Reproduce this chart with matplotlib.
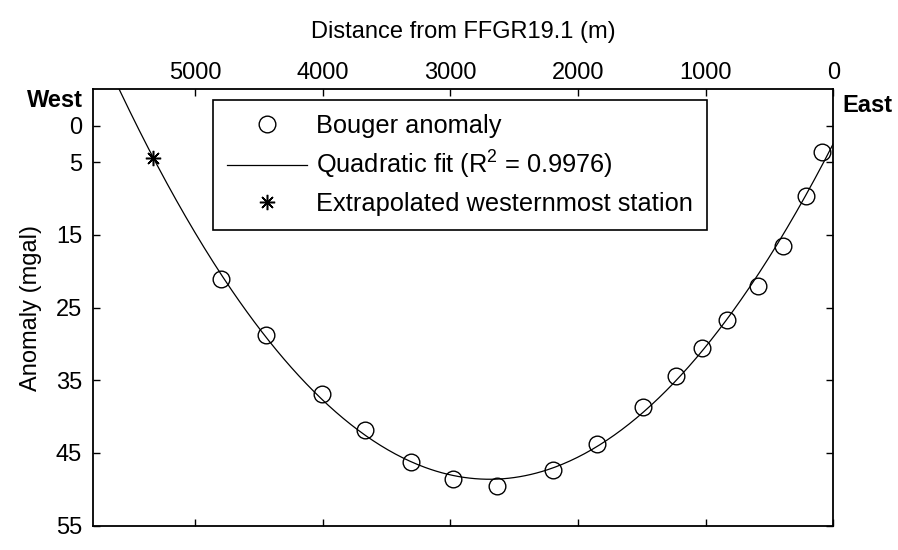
import numpy as np
import matplotlib
matplotlib.use('Agg')
import matplotlib.pyplot as plt

# Bouguer anomaly stations (distance from FFGR19.1, anomaly)
distance = [4796, 4446, 4007, 3666, 3310, 2981, 2632, 2193, 1848, 1488,
            1234, 1031, 830, 592, 392, 214, 91]
anomaly = [21.1, 28.8, 36.9, 41.9, 46.2, 48.6, 49.5, 47.3, 43.7, 38.7,
           34.4, 30.5, 26.7, 22.0, 16.5, 9.7, 3.6]

# extrapolated westernmost station
west_distance = [5326]
west_anomaly = [4.4]

x_ticks = [0, 1000, 2000, 3000, 4000, 5000]
y_ticks = [0, 5, 15, 25, 35, 45, 55]

plt.rcParams['font.family'] = ['Liberation Sans', 'DejaVu Sans']
plt.rcParams['font.size'] = 17
plt.rcParams['mathtext.fontset'] = 'custom'
plt.rcParams['mathtext.rm'] = 'Liberation Sans'

fig = plt.figure(figsize=(8.98, 5.5), dpi=100)
ax = fig.add_axes([0.1039, 0.0442, 0.8241, 0.7934])

# quadratic fit through the stations
coef = np.polyfit(distance, anomaly, 2)
xfit = np.linspace(0, 5800, 400)
yfit = np.polyval(coef, xfit)

ax.plot(distance, anomaly, linestyle='none', marker='o', markersize=12,
        markerfacecolor='none', markeredgecolor='black', markeredgewidth=1,
        label='Bouger anomaly')
ax.plot(xfit, yfit, color='black', linewidth=0.9,
        label='Quadratic fit (R$^2$ = 0.9976)')
ax.plot(west_distance, west_anomaly, linestyle='none', marker=(8, 2, 0),
        markersize=11, markeredgecolor='black', markeredgewidth=1.1,
        color='black', label='Extrapolated westernmost station')

ax.set_xlim(5796, 0)
ax.set_ylim(55, -5)
ax.set_xticks(x_ticks)
ax.set_yticks(y_ticks)
ax.xaxis.tick_top()
ax.xaxis.set_label_position('top')
ax.tick_params(direction='in', length=5, width=1, top=True, bottom=True,
               left=True, right=True, labelbottom=False, labelright=False,
               labeltop=True, labelleft=True)
ax.tick_params(axis='x', pad=4)
ax.tick_params(axis='y', pad=8)
for s in ax.spines.values():
    s.set_linewidth(1.3)

ax.set_xlabel('Distance from FFGR19.1 (m)', labelpad=17)
ax.set_ylabel('Anomaly (mgal)', labelpad=10)

fig.text(83 / 898, 1 - 107 / 550, 'West', fontweight='bold', ha='right', va='baseline')
fig.text(842 / 898, 1 - 112 / 550, 'East', fontweight='bold', ha='left', va='baseline')

leg = ax.legend(loc='upper left', bbox_to_anchor=(0.1618, 0.9755), borderaxespad=0,
                fancybox=False, framealpha=1, edgecolor='black', fontsize=18.3,
                handlelength=3.15, handletextpad=0.35, labelspacing=0.42,
                borderpad=0.55)
leg.get_frame().set_linewidth(1.2)

fig.savefig('out.png', dpi=100)
